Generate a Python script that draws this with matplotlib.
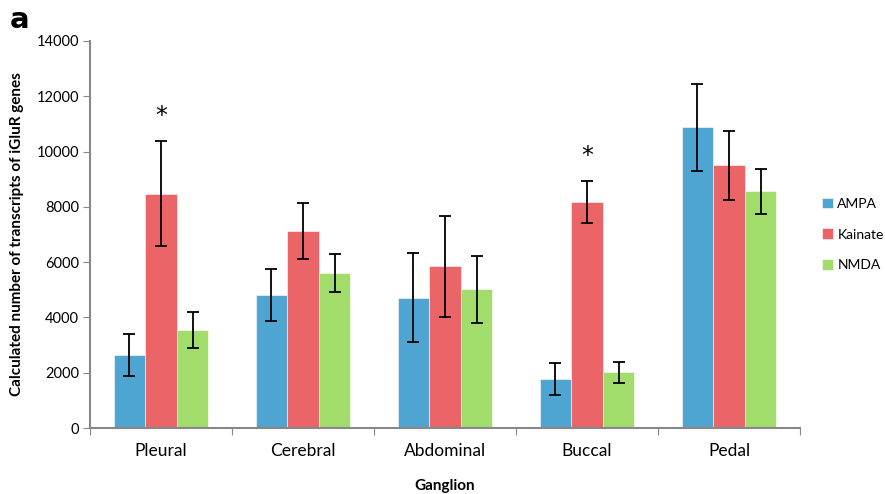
import numpy as np
import matplotlib.pyplot as plt

ganglia = ["Pleural", "Cerebral", "Abdominal", "Buccal", "Pedal"]
receptors = ["AMPA", "Kainate", "NMDA"]

ampa = [2640, 4810, 4715, 1770, 10880]
kainate = [8470, 7130, 5850, 8170, 9500]
nmda = [3545, 5610, 5015, 2010, 8565]

ampa_err = [770, 940, 1610, 590, 1580]
kainate_err = [1900, 1020, 1830, 765, 1250]
nmda_err = [640, 690, 1210, 380, 810]

# asterisk = significant kainate bars
sig_ganglia = ["Pleural", "Buccal"]
sig_heights = [11300, 9850]

cores = ["#4fa5d2", "#eb6468", "#a2dc6a"]

plt.rcParams['font.family'] = ['Lato', 'DejaVu Sans']

fig = plt.figure(figsize=(8.85, 4.94), dpi=100)
ax = fig.add_axes([90/885, 1-428/494, 710/885, 387/494])

x = np.arange(len(ganglia))
largura = 0.222
valores = [ampa, kainate, nmda]
erros = [ampa_err, kainate_err, nmda_err]
for i in range(3):
    ax.bar(x + (i-1)*largura, valores[i], largura, color=cores[i], label=receptors[i],
           edgecolor="#ffffff", linewidth=0.4,
           yerr=erros[i], capsize=4, error_kw=dict(ecolor="black", elinewidth=1.3, capthick=1.3))

for g, h in zip(sig_ganglia, sig_heights):
    ax.text(ganglia.index(g), h, "*", ha="center", va="center", fontsize=17, family="DejaVu Sans")

ax.set_xlim(-0.5, len(ganglia)-0.5)
ax.set_ylim(0, 14000)
ax.set_yticks(np.arange(0, 14001, 2000))
ax.set_xticks(np.arange(-0.5, len(ganglia), 1))
ax.set_xticklabels([])
ax.set_xticks(x, minor=True)
ax.set_xticklabels(ganglia, minor=True, fontsize=12.5)
ax.tick_params(axis="x", which="minor", length=0, pad=11)
ax.tick_params(axis="x", which="major", length=5, color="#888888", direction="out")
ax.tick_params(axis="y", length=5, color="#888888", labelsize=10.5, pad=3)

for s in ["top", "right"]:
    ax.spines[s].set_visible(False)
for s in ["left", "bottom"]:
    ax.spines[s].set_color("#888888")
    ax.spines[s].set_linewidth(1.5)

ax.set_xlabel("Ganglion", fontsize=11, fontweight="bold", labelpad=14)
ax.set_ylabel("Calculated number of transcripts of iGluR genes", fontsize=11, fontweight="bold", labelpad=9)

leg = ax.legend(loc="center left", bbox_to_anchor=((822-90)/710, 0.5), frameon=False,
                fontsize=10, handlelength=0.8, handleheight=0.8, handletextpad=0.3,
                labelspacing=1.35, borderaxespad=0, borderpad=0)

fig.text(10/885, 1-20/494, "a", fontsize=21, fontweight="bold", va="center", ha="left",
         family="DejaVu Sans")

plt.savefig("out.png", dpi=100)
